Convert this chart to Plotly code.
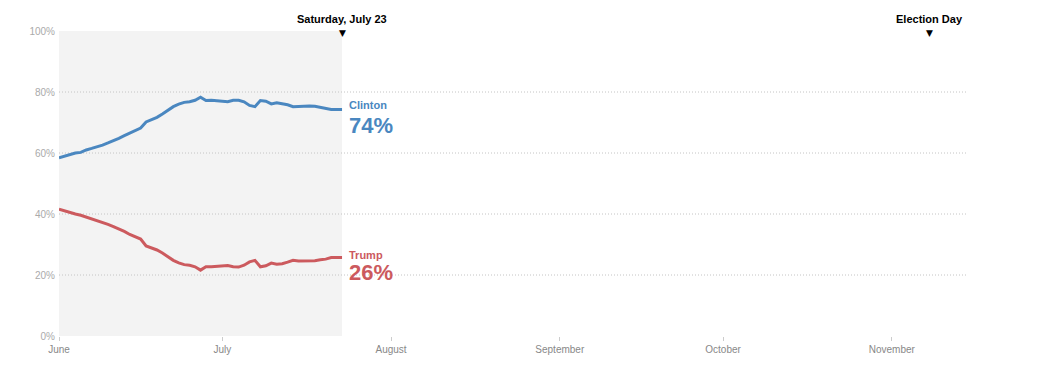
import pandas as pd
import plotly.graph_objects as go

dates = pd.date_range("2016-06-01", "2016-07-23", freq="D").strftime("%Y-%m-%d").tolist()

clinton = [58.4, 59.0, 59.5, 60.0, 60.2, 61.0, 61.5, 62.0, 62.6, 63.3,
           64.0, 64.8, 65.7, 66.6, 67.3, 68.2, 70.2, 71.0, 71.7, 72.8,
           74.0, 75.2, 76.0, 76.6, 76.8, 77.3, 78.3, 77.2, 77.3, 77.2,
           76.9, 76.8, 77.3, 77.3, 76.8, 75.6, 75.2, 77.2, 77.0, 76.1,
           76.5, 76.2, 75.8, 75.2, 75.3, 75.3, 75.4, 75.3, 75.0, 74.8,
           74.3, 74.3, 74.3]
trump = [41.6, 41.0, 40.4, 40.0, 39.6, 39.0, 38.5, 38.0, 37.3, 36.6,
         35.9, 35.2, 34.3, 33.3, 32.6, 31.8, 29.5, 28.9, 28.2, 27.2,
         26.0, 24.8, 24.0, 23.4, 23.2, 22.7, 21.6, 22.7, 22.7, 22.8,
         23.1, 23.1, 22.7, 22.6, 23.2, 24.3, 24.8, 22.7, 23.0, 23.9,
         23.5, 23.7, 24.2, 24.8, 24.6, 24.6, 24.6, 24.7, 25.0, 25.2,
         25.7, 25.7, 25.7]

today = "2016-07-23"
election_day = "2016-11-08"
x_range = ["2016-06-01", "2016-11-15"]
month_ticks = ["2016-06-01", "2016-07-01", "2016-08-01", "2016-09-01", "2016-10-01", "2016-11-01"]
month_labels = ["June", "July", "August", "September", "October", "November"]
y_ticks = [0, 20, 40, 60, 80, 100]
y_labels = ["0%", "20%", "40%", "60%", "80%", "100%"]
grid_vals = [20, 40, 60, 80]

BLUE = "#4a87c0"
RED = "#cc5a5e"
FONT = "Liberation Sans"

fig = go.Figure()
fig.add_trace(go.Scatter(x=dates, y=clinton, mode="lines",
                         line=dict(color=BLUE, width=3), hoverinfo="skip"))
fig.add_trace(go.Scatter(x=dates, y=trump, mode="lines",
                         line=dict(color=RED, width=3), hoverinfo="skip"))

shapes = [dict(type="rect", xref="x", yref="y", x0=x_range[0], x1=today, y0=0, y1=100,
               fillcolor="#f3f3f3", line=dict(width=0), layer="below")]
for g in grid_vals:
    shapes.append(dict(type="line", xref="x", yref="y", x0=x_range[0], x1=x_range[1],
                       y0=g, y1=g, line=dict(color="#c4c4c4", width=1, dash="1px,2px"),
                       layer="below"))

annotations = []
for xd, label in [(today, "Saturday, July 23"), (election_day, "Election Day")]:
    annotations.append(dict(x=xd, y=1, xref="x", yref="paper", yanchor="bottom",
                            yshift=4, text="<b>" + label + "</b>", showarrow=False,
                            font=dict(family=FONT, size=11, color="#000")))
    annotations.append(dict(x=xd, y=1, xref="x", yref="paper", yanchor="middle",
                            yshift=-2, text="▼", showarrow=False,
                            font=dict(family="DejaVu Sans", size=9, color="#000")))

for series, name, color, s1, s2 in [(clinton, "Clinton", BLUE, 4, -16),
                                      (trump, "Trump", RED, 3, -15)]:
    annotations.append(dict(x=dates[-1], y=series[-1], xref="x", yref="y",
                            xanchor="left", yanchor="middle", xshift=5, yshift=s1,
                            text="<b>" + name + "</b>", showarrow=False,
                            font=dict(family=FONT, size=11, color=color)))
    annotations.append(dict(x=dates[-1], y=series[-1], xref="x", yref="y",
                            xanchor="left", yanchor="middle", xshift=5, yshift=s2,
                            text="<b>%d%%</b>" % round(series[-1]), showarrow=False,
                            font=dict(family=FONT, size=22, color=color)))

fig.update_layout(
    width=1051, height=372,
    margin=dict(l=51, r=91, t=23, b=44),
    paper_bgcolor="white", plot_bgcolor="white",
    showlegend=False,
    shapes=shapes, annotations=annotations,
    xaxis=dict(type="date", range=x_range, tickvals=month_ticks, ticktext=month_labels,
               showgrid=False, zeroline=False, showline=False,
               ticks="outside", ticklen=4, tickcolor="#cccccc", tickwidth=1,
               tickfont=dict(family=FONT, size=10, color="#888888")),
    yaxis=dict(range=[0, 100], tickvals=y_ticks, ticktext=y_labels,
               showgrid=False, zeroline=False, showline=False, ticks="",
               ticklabelstandoff=3,
               tickfont=dict(family=FONT, size=10, color="#aaaaaa")),
)

fig.write_html("out.html")
